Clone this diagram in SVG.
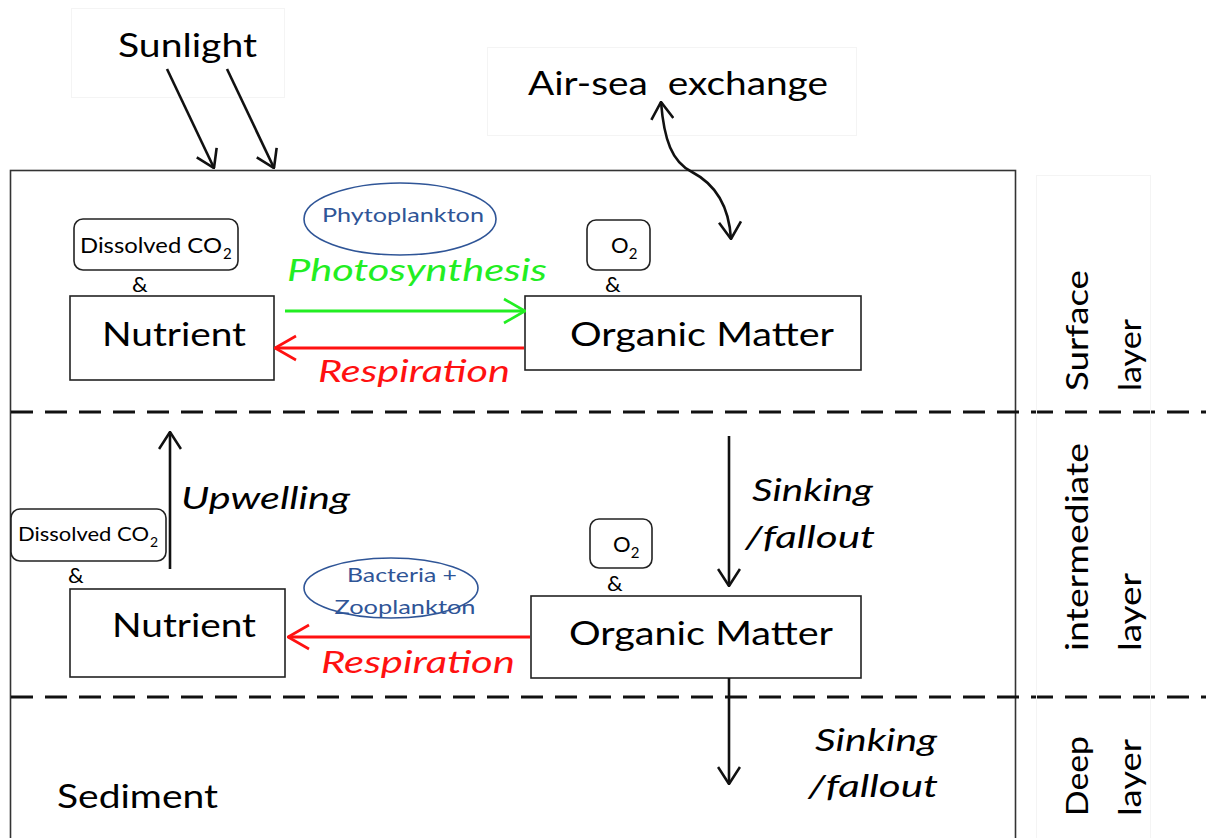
<svg xmlns="http://www.w3.org/2000/svg" width="1206" height="838" viewBox="0 0 1206 838">
  <style>
    text { font-family: Lato, "Open Sans", "Liberation Sans", sans-serif; fill: #000; }
    .big { font-size: 32px; }
    .mid { font-size: 31px; font-style: italic; }
    .small { font-size: 22px; }
    .blue { fill: #2f5597; font-size: 20px; }
    .layer { font-size: 30px; }
    .box { fill: #fff; stroke: #222; stroke-width: 1.6; }
    .rbox { fill: #fff; stroke: #222; stroke-width: 1.6; }
    .faint { fill: none; stroke: #f4f4f4; stroke-width: 1; }
    .dash { stroke: #111; stroke-width: 3; stroke-dasharray: 22 12; }
    .blk { fill: none; stroke: #111; stroke-width: 2.6; }
    .ell { fill: #fff; stroke: #2f5597; stroke-width: 1.6; }
  </style>
  <defs>
    <marker id="hk" viewBox="0 0 20 24" refX="19" refY="12" markerWidth="20" markerHeight="24" markerUnits="userSpaceOnUse" orient="auto-start-reverse">
      <path d="M2,1 L19,12 L2,23" fill="none" stroke="#111" stroke-width="2.6"/>
    </marker>
    <marker id="hg" viewBox="0 0 24 28" refX="23" refY="14" markerWidth="24" markerHeight="28" markerUnits="userSpaceOnUse" orient="auto">
      <path d="M2,2 L23,14 L2,26" fill="none" stroke="#22ee22" stroke-width="2.6"/>
    </marker>
    <marker id="hr" viewBox="0 0 24 28" refX="23" refY="14" markerWidth="24" markerHeight="28" markerUnits="userSpaceOnUse" orient="auto">
      <path d="M2,2 L23,14 L2,26" fill="none" stroke="#ff1111" stroke-width="2.6"/>
    </marker>
  </defs>

  <rect width="1206" height="838" fill="#fff"/>

  <!-- ocean column frame and layer boundaries -->
  <rect x="10.5" y="170.5" width="1005" height="700" fill="none" stroke="#333" stroke-width="1.6"/>
  <line class="dash" x1="11" y1="412" x2="1206" y2="412"/>
  <line class="dash" x1="11" y1="697" x2="1206" y2="697"/>
  <rect class="faint" x="1036.5" y="175.5" width="114" height="680"/>

  <!-- top labels -->
  <g id="sunlight">
    <rect class="faint" x="71.5" y="8.5" width="213" height="89"/>
    <text class="big" x="118" y="57" textLength="139" lengthAdjust="spacingAndGlyphs">Sunlight</text>
  </g>
  <g id="air-sea">
    <rect class="faint" x="487.5" y="47.5" width="369" height="88"/>
    <text class="big" x="528" y="95" xml:space="preserve" textLength="300" lengthAdjust="spacingAndGlyphs">Air-sea  exchange</text>
  </g>

  <!-- surface layer -->
  <g id="phytoplankton">
    <ellipse class="ell" cx="400" cy="219" rx="96" ry="36"/>
    <text class="blue" x="403" y="222" text-anchor="middle" textLength="162" lengthAdjust="spacingAndGlyphs">Phytoplankton</text>
  </g>
  <g id="co2-surface">
    <rect class="rbox" x="74" y="219" width="164" height="51" rx="9"/>
    <text class="small" y="253"><tspan x="80" textLength="142" lengthAdjust="spacingAndGlyphs">Dissolved CO</tspan><tspan x="223" font-size="15" dy="6">2</tspan></text>
    <text class="small" x="132" y="292">&amp;</text>
  </g>
  <g id="nutrient-surface">
    <rect class="box" x="70" y="296" width="204" height="84"/>
    <text class="big" x="102" y="346" textLength="144" lengthAdjust="spacingAndGlyphs">Nutrient</text>
  </g>
  <g id="o2-surface">
    <rect class="rbox" x="587" y="220" width="63" height="50" rx="9"/>
    <text class="small" x="611" y="253">O<tspan font-size="15" dy="6">2</tspan></text>
    <text class="small" x="605" y="292">&amp;</text>
  </g>
  <g id="organic-surface">
    <rect class="box" x="525" y="296" width="336" height="74"/>
    <text class="big" x="570" y="346" textLength="264" lengthAdjust="spacingAndGlyphs">Organic Matter</text>
  </g>
  <g id="surface-label">
    <text class="layer" transform="translate(1088,391) rotate(-90)" textLength="121" lengthAdjust="spacingAndGlyphs">Surface</text>
    <text class="layer" transform="translate(1141,391) rotate(-90)" textLength="72" lengthAdjust="spacingAndGlyphs">layer</text>
  </g>

  <!-- intermediate layer -->
  <g id="co2-intermediate">
    <rect class="rbox" x="11" y="509" width="155" height="52" rx="9"/>
    <text font-size="20" y="541"><tspan x="18" textLength="131" lengthAdjust="spacingAndGlyphs">Dissolved CO</tspan><tspan x="150" font-size="14" dy="6">2</tspan></text>
    <text class="small" x="68" y="583">&amp;</text>
  </g>
  <g id="nutrient-intermediate">
    <rect class="box" x="70" y="589" width="215" height="88"/>
    <text class="big" x="112" y="637" textLength="144" lengthAdjust="spacingAndGlyphs">Nutrient</text>
  </g>
  <g id="decomposers">
    <ellipse class="ell" cx="391" cy="588" rx="87" ry="30"/>
    <text class="blue" x="402" y="582" text-anchor="middle" textLength="110" lengthAdjust="spacingAndGlyphs">Bacteria +</text>
    <text class="blue" x="405" y="614" text-anchor="middle" textLength="141" lengthAdjust="spacingAndGlyphs">Zooplankton</text>
  </g>
  <g id="o2-intermediate">
    <rect class="rbox" x="590" y="519" width="62" height="49" rx="9"/>
    <text class="small" x="613" y="552">O<tspan font-size="15" dy="6">2</tspan></text>
    <text class="small" x="607" y="591">&amp;</text>
  </g>
  <g id="organic-intermediate">
    <rect class="box" x="531" y="596" width="330" height="82"/>
    <text class="big" x="569" y="645" textLength="264" lengthAdjust="spacingAndGlyphs">Organic Matter</text>
  </g>
  <g id="intermediate-label">
    <text class="layer" transform="translate(1088,651) rotate(-90)" textLength="208" lengthAdjust="spacingAndGlyphs">intermediate</text>
    <text class="layer" transform="translate(1141,651) rotate(-90)" textLength="78" lengthAdjust="spacingAndGlyphs">layer</text>
  </g>

  <!-- deep layer -->
  <g id="sediment">
    <text class="big" x="57" y="808" textLength="161" lengthAdjust="spacingAndGlyphs">Sediment</text>
  </g>
  <g id="deep-label">
    <text class="layer" transform="translate(1088,816) rotate(-90)" textLength="80" lengthAdjust="spacingAndGlyphs">Deep</text>
    <text class="layer" transform="translate(1141,816) rotate(-90)" textLength="77" lengthAdjust="spacingAndGlyphs">layer</text>
  </g>

  <!-- fluxes between pools -->
  <g id="connectors">
    <line class="blk" x1="167" y1="69" x2="214" y2="168" marker-end="url(#hk)"/>
    <line class="blk" x1="227" y1="69" x2="274" y2="168" marker-end="url(#hk)"/>
    <path class="blk" d="M661,102 C664,140 672,162 692,172 C715,184 729,205 731,239" marker-start="url(#hk)" marker-end="url(#hk)"/>

    <line x1="285" y1="311" x2="525" y2="311" stroke="#22ee22" stroke-width="2.8" marker-end="url(#hg)"/>
    <text class="mid" x="287" y="281" style="fill:#22ee22" textLength="260" lengthAdjust="spacingAndGlyphs">Photosynthesis</text>
    <line x1="524" y1="348" x2="275" y2="348" stroke="#ff1111" stroke-width="2.8" marker-end="url(#hr)"/>
    <text class="mid" x="318" y="382" style="fill:#ff1111" textLength="192" lengthAdjust="spacingAndGlyphs">Respiration</text>

    <line class="blk" x1="170" y1="569" x2="170" y2="432" marker-end="url(#hk)"/>
    <text class="mid" x="181" y="509" textLength="169" lengthAdjust="spacingAndGlyphs">Upwelling</text>

    <line class="blk" x1="729" y1="436" x2="729" y2="586" marker-end="url(#hk)"/>
    <text class="mid" x="752" y="501" textLength="121" lengthAdjust="spacingAndGlyphs">Sinking</text>
    <text class="mid" x="745" y="548" textLength="130" lengthAdjust="spacingAndGlyphs">/fallout</text>

    <line x1="530" y1="637" x2="288" y2="637" stroke="#ff1111" stroke-width="2.8" marker-end="url(#hr)"/>
    <text class="mid" x="321" y="673" style="fill:#ff1111" textLength="194" lengthAdjust="spacingAndGlyphs">Respiration</text>

    <line class="blk" x1="729" y1="678" x2="729" y2="784" marker-end="url(#hk)"/>
    <text class="mid" x="815" y="751" textLength="122" lengthAdjust="spacingAndGlyphs">Sinking</text>
    <text class="mid" x="808" y="797" textLength="130" lengthAdjust="spacingAndGlyphs">/fallout</text>
  </g>
</svg>
